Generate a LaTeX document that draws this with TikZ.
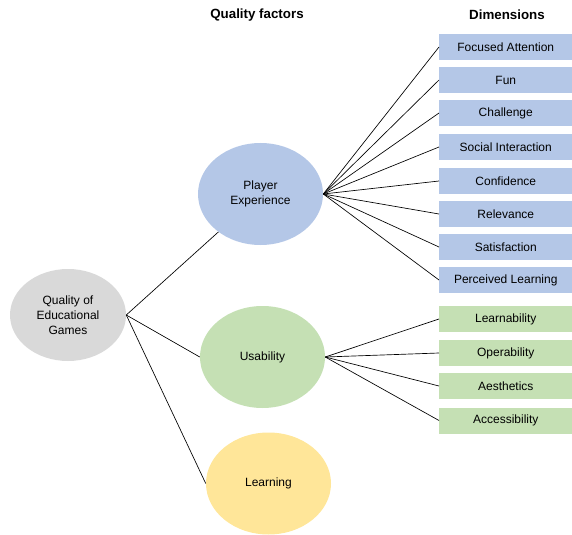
\documentclass[tikz,border=0pt]{standalone}
\usepackage{fontspec}
\setmainfont{Liberation Sans}
\usetikzlibrary{shapes.geometric}
\definecolor{pxblue}{HTML}{B4C7E7}
\definecolor{usgreen}{HTML}{C5E0B4}
\definecolor{lnyellow}{HTML}{FFE699}
\definecolor{qgrey}{HTML}{D9D9D9}
\begin{document}
\begin{tikzpicture}[x=0.75pt,y=-0.75pt,
  factor/.style={ellipse,minimum width=93.75pt,minimum height=76.5pt,inner sep=0pt,align=center,font=\fontsize{9}{11.2}\selectfont},
  dimbox/.style={rectangle,anchor=west,minimum width=99.75pt,minimum height=19.5pt,inner sep=0pt,font=\fontsize{9}{11}\selectfont},
  heading/.style={font=\bfseries\fontsize{10}{12}\selectfont},
  link/.style={line width=0.5pt}]
\useasboundingbox (0,0) rectangle (572,535);

\node[heading] (hfactors) at (257,15) {Quality factors};
\node[heading] (hdims) at (507,15) {Dimensions};

\node[factor,fill=qgrey,minimum width=87pt,minimum height=69pt] (quality) at (68,315) {Quality of\\Educational\\Games};
\node[factor,fill=pxblue] (player) at (260.5,194) {Player\\Experience};
\node[factor,fill=usgreen] (usability) at (262.5,357) {Usability};
\node[factor,fill=lnyellow] (learning) at (268.5,483.5) {Learning};

\node[dimbox,fill=pxblue] (attention) at (439,47) {Focused Attention};
\node[dimbox,fill=pxblue] (fun) at (439,80) {Fun};
\node[dimbox,fill=pxblue] (challenge) at (439,113) {Challenge};
\node[dimbox,fill=pxblue] (social) at (439,147) {Social Interaction};
\node[dimbox,fill=pxblue] (confidence) at (439,181) {Confidence};
\node[dimbox,fill=pxblue] (relevance) at (439,214) {Relevance};
\node[dimbox,fill=pxblue] (satisfaction) at (439,247) {Satisfaction};
\node[dimbox,fill=pxblue] (perceived) at (439,280) {Perceived Learning};

\node[dimbox,fill=usgreen] (learnability) at (439,319) {Learnability};
\node[dimbox,fill=usgreen] (operability) at (439,353) {Operability};
\node[dimbox,fill=usgreen] (aesthetics) at (439,386) {Aesthetics};
\node[dimbox,fill=usgreen] (accessibility) at (439,420.5) {Accessibility};

\draw[link] (quality.east) -- (player);
\draw[link] (quality.east) -- (usability.west);
\draw[link] (quality.east) -- (learning.west);

\draw[link] (player.east) -- (attention.west);
\draw[link] (player.east) -- (fun.west);
\draw[link] (player.east) -- (challenge.west);
\draw[link] (player.east) -- (social.west);
\draw[link] (player.east) -- (confidence.west);
\draw[link] (player.east) -- (relevance.west);
\draw[link] (player.east) -- (satisfaction.west);
\draw[link] (player.east) -- (perceived.west);

\draw[link] (usability.east) -- (learnability.west);
\draw[link] (usability.east) -- (operability.west);
\draw[link] (usability.east) -- (aesthetics.west);
\draw[link] (usability.east) -- (accessibility.west);
\end{tikzpicture}
\end{document}
